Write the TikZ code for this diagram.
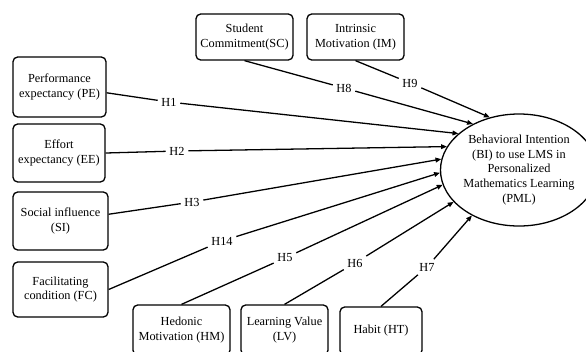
\documentclass[tikz,border=0pt]{standalone}
\usepackage{fontspec}
\setmainfont{Liberation Serif}
\usetikzlibrary{shapes.geometric, arrows.meta}

\begin{document}
\begin{tikzpicture}[x=0.03cm, y=-0.03cm,
  every node/.style = {align=center, font=\fontsize{10.5}{12.6}\selectfont},
  factor/.style = {draw, rounded corners=4pt, line width=1.1pt, inner sep=0pt},
  hyp/.style = {inner sep=3pt},
  link/.style = {line width=1.1pt},
  arr/.style = {link, -{Triangle[length=5pt,width=4pt]}}]
 \clip (0,0) rectangle (586,351);

 \node [factor, minimum width=2.91cm, minimum height=1.38cm] (sc) at (244.5,37) {Student\\Commitment(SC)};
 \node [factor, minimum width=2.91cm, minimum height=1.38cm] (im) at (355.5,37) {Intrinsic\\Motivation (IM)};
 \node [factor, minimum width=2.79cm, minimum height=1.8cm] (pe) at (59.5,87) {Performance\\expectancy (PE)};
 \node [factor, minimum width=2.76cm, minimum height=1.74cm] (ee) at (59,153) {Effort\\expectancy (EE)};
 \node [factor, minimum width=2.85cm, minimum height=1.74cm] (si) at (60.5,221) {Social influence\\(SI)};
 \node [factor, minimum width=2.85cm, minimum height=1.65cm] (fc) at (60.5,289.5) {Facilitating\\condition (FC)};
 \node [factor, minimum width=2.91cm, minimum height=1.5cm] (hm) at (181.5,330) {Hedonic\\Motivation (HM)};
 \node [factor, minimum width=2.61cm, minimum height=1.5cm] (lv) at (284.5,330) {Learning Value\\(LV)};
 \node [factor, minimum width=2.46cm, minimum height=1.44cm] (ht) at (381,331) {Habit (HT)};

 \node [draw, ellipse, line width=1.1pt, inner sep=0pt, minimum width=4.6cm, minimum height=3.36cm] (bi) at (519,170)
   {Behavioral Intention\\(BI) to use LMS in\\Personalized\\Mathematics Learning\\(PML)};

 \node [hyp] (h1) at (169,102) {H1};
 \node [hyp] (h2) at (177,151) {H2};
 \node [hyp] (h3) at (192,202) {H3};
 \node [hyp] (h14) at (222,241) {H14};
 \node [hyp] (h5) at (285,258) {H5};
 \node [hyp] (h6) at (355,263) {H6};
 \node [hyp] (h7) at (427,267) {H7};
 \node [hyp] (h8) at (344,88) {H8};
 \node [hyp] (h9) at (410,83) {H9};

 \draw [link] (pe.-7) -- (h1);
 \draw [arr] (h1) -- (bi.149.5);
 \draw [link] (ee.east) -- (h2);
 \draw [arr] (h2) -- (bi.162.5);
 \draw [link] (si.8) -- (h3);
 \draw [arr] (h3) -- (bi.172.5);
 \draw [link] (fc.east) -- (h14);
 \draw [arr] (h14) -- (bi.182);
 \draw [link] (hm.north) -- (h5);
 \draw [arr] (h5) -- (bi.191);
 \draw [link] (lv.north) -- (h6);
 \draw [arr] (h6) -- (bi.206.6);
 \draw [link] (ht.north) -- (h7);
 \draw [arr] (h7) -- (bi.224);
 \draw [link] (sc.south) -- (h8);
 \draw [arr] (h8) -- (bi.135);
 \draw [link] (im.south) -- (h9);
 \draw [arr] (h9) -- (bi.119.4);
\end{tikzpicture}
\end{document}
